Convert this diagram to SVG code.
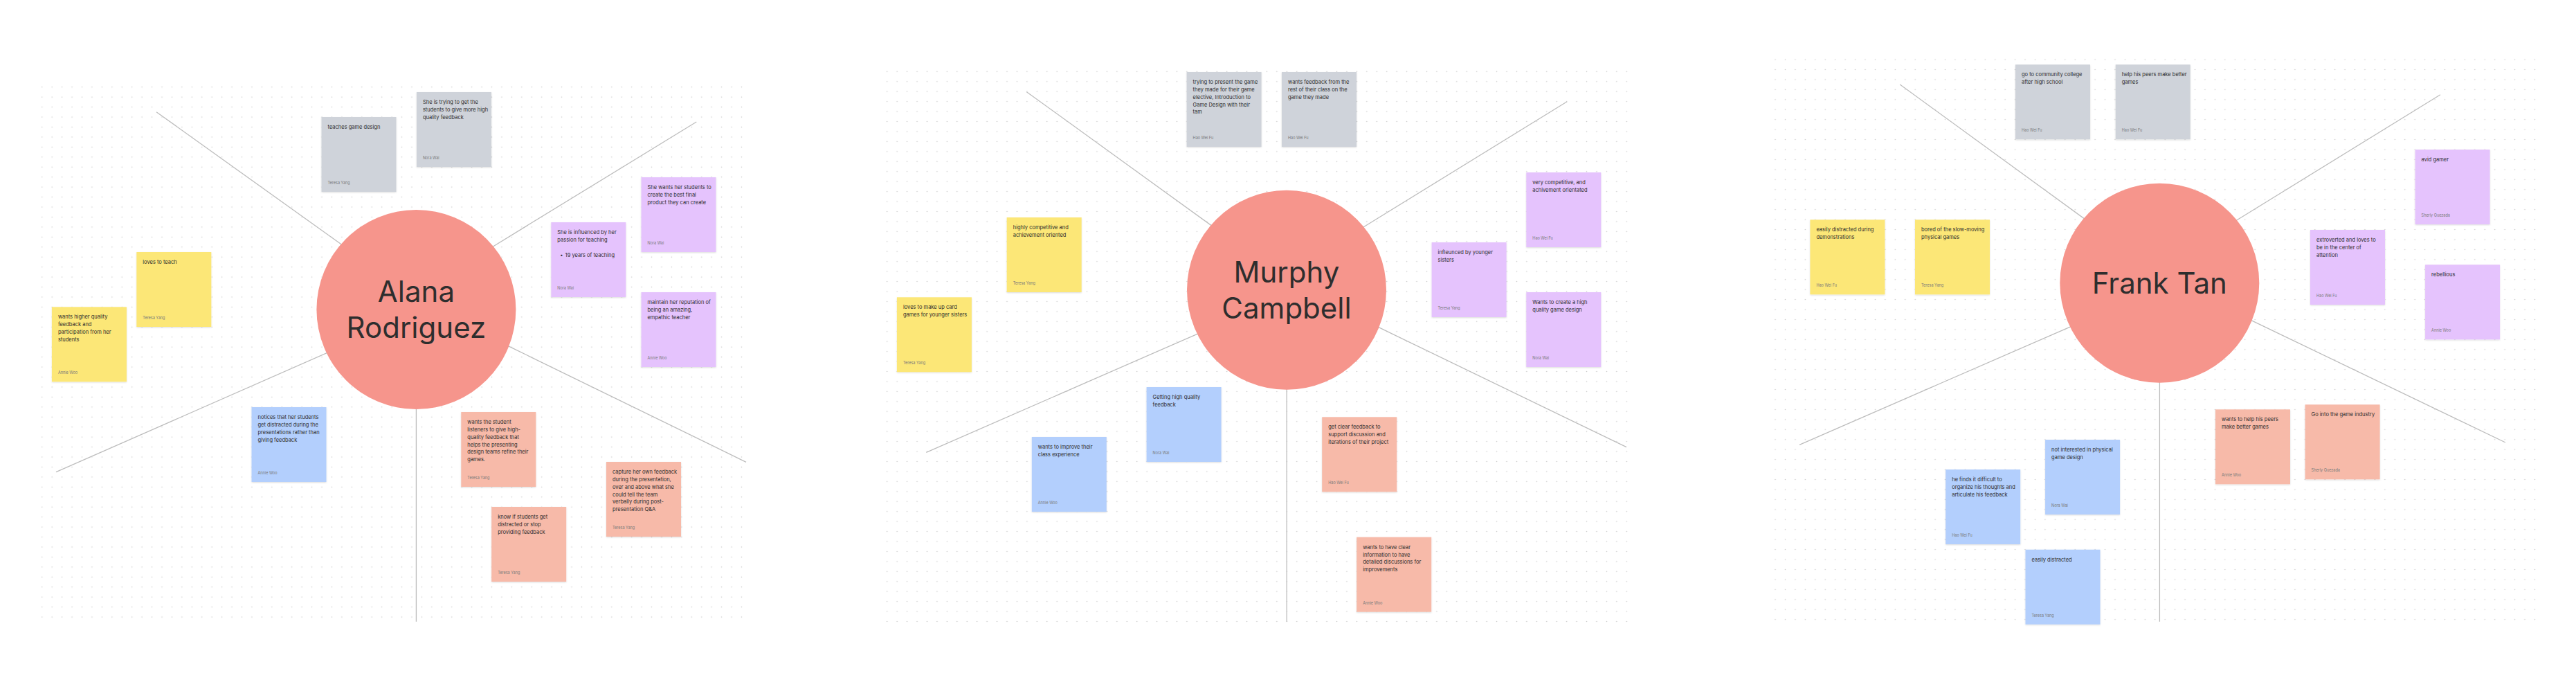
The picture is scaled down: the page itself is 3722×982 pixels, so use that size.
<svg xmlns="http://www.w3.org/2000/svg" width="3722" height="982" viewBox="0 0 3722 982">
<defs>
<pattern id="dots1" x="53.5" y="118.5" width="14.44" height="14.44" patternUnits="userSpaceOnUse"><circle cx="7.22" cy="7.22" r="0.8" fill="#c9c9c9"/></pattern>
<pattern id="dots2" x="1274.5" y="96.1" width="14.44" height="14.44" patternUnits="userSpaceOnUse"><circle cx="7.22" cy="7.22" r="0.8" fill="#c9c9c9"/></pattern>
<pattern id="dots3" x="2557.8" y="78.8" width="14.44" height="14.44" patternUnits="userSpaceOnUse"><circle cx="7.22" cy="7.22" r="0.8" fill="#c9c9c9"/></pattern>
<filter id="sh" x="-10%" y="-10%" width="120%" height="125%"><feDropShadow dx="0" dy="1" stdDeviation="1" flood-color="#000" flood-opacity="0.14"/></filter>
</defs>
<style>
.st{filter:url(#sh)}
.grey{fill:#cfd3da}
.yellow{fill:#fce777}
.purple{fill:#e5c3fd}
.blue{fill:#b3cffd}
.salmon{fill:#f7baa9}
.b{font-family:Inter,"Liberation Sans",sans-serif;font-size:7.5px;fill:#2b2b2b}
.a{font-family:Inter,"Liberation Sans",sans-serif;font-size:5.5px;fill:#7a7a7a}
.hub{fill:#f6958c}
.hubt{font-family:Inter,"Liberation Sans",sans-serif;font-size:42px;fill:#2e2e2e;text-anchor:middle}
.con line{stroke:#bdbdbd;stroke-width:1.3;fill:none}
</style>
<rect width="3722" height="982" fill="#ffffff"/>
<g id="backgrounds">
<rect x="53.5" y="118.5" width="1025" height="780" fill="url(#dots1)"/>
<rect x="1274.5" y="96.1" width="1083" height="808" fill="url(#dots2)"/>
<rect x="2557.8" y="78.8" width="1112" height="824" fill="url(#dots3)"/>
</g>
<g id="connectors" class="con">
<line x1="226" y1="161.7" x2="500" y2="357.8"/>
<line x1="1006.3" y1="176" x2="705.5" y2="360.2"/>
<line x1="81" y1="681.7" x2="479" y2="506.7"/>
<line x1="1078" y1="667.3" x2="726" y2="495.6"/>
<line x1="601.4" y1="580" x2="601.4" y2="897.7"/>
<line x1="1483.4" y1="132.7" x2="1757.5" y2="330.9"/>
<line x1="2264.2" y1="146.7" x2="1961" y2="333.5"/>
<line x1="1338.3" y1="653.3" x2="1736.8" y2="479.3"/>
<line x1="2350" y1="645.7" x2="1984.3" y2="468.9"/>
<line x1="1859.2" y1="550" x2="1859.2" y2="897.7"/>
<line x1="2745.2" y1="122" x2="3018.5" y2="320.9"/>
<line x1="3526" y1="136.7" x2="3222.8" y2="323.5"/>
<line x1="2600" y1="642.3" x2="2997.4" y2="469.3"/>
<line x1="3620" y1="639" x2="3244" y2="458.4"/>
<line x1="3120.4" y1="540" x2="3120.4" y2="897.7"/>
</g>
<g id="hub-alana"><circle class="hub" cx="601.4" cy="447" r="144"/><text class="hubt"><tspan x="601.4" y="436">Alana</tspan><tspan x="601.4" y="488">Rodriguez</tspan></text></g>
<g id="hub-murphy"><circle class="hub" cx="1859" cy="418.7" r="144"/><text class="hubt"><tspan x="1859" y="408">Murphy</tspan><tspan x="1859" y="460">Campbell</tspan></text></g>
<g id="hub-frank"><circle class="hub" cx="3120.3" cy="408.7" r="144"/><text class="hubt"><tspan x="3120.3" y="424.3">Frank Tan</tspan></text></g>

<g id="n1" transform="translate(464.5,169)"><rect class="st grey" width="108" height="108"/><text class="b"><tspan x="9" y="17">teaches game design</tspan></text><text class="a" x="9" y="97">Teresa Yang</text></g>
<g id="n2" transform="translate(601.9,133)"><rect class="st grey" width="108" height="108"/><text class="b"><tspan x="9" y="17">She is trying to get the</tspan><tspan x="9" dy="10.85">students to give more high</tspan><tspan x="9" dy="10.85">quality feedback</tspan></text><text class="a" x="9" y="97">Nora Wai</text></g>
<g id="n3" transform="translate(197.3,364)"><rect class="st yellow" width="108" height="108"/><text class="b"><tspan x="9" y="17">loves to teach</tspan></text><text class="a" x="9" y="97">Teresa Yang</text></g>
<g id="n4" transform="translate(74.9,443.3)"><rect class="st yellow" width="108" height="108"/><text class="b"><tspan x="9" y="17">wants higher quality</tspan><tspan x="9" dy="10.85">feedback and</tspan><tspan x="9" dy="10.85">participation from her</tspan><tspan x="9" dy="10.85">students</tspan></text><text class="a" x="9" y="97">Annie Woo</text></g>
<g id="n5" transform="translate(796.3,321)"><rect class="st purple" width="108" height="108"/><text class="b"><tspan x="9" y="17">She is influenced by her</tspan><tspan x="9" dy="10.85">passion for teaching</tspan><tspan x="13" y="49.5">•</tspan><tspan x="20.3" y="49.5">19 years of teaching</tspan></text><text class="a" x="9" y="97">Nora Wai</text></g>
<g id="n6" transform="translate(926.5,256)"><rect class="st purple" width="108" height="108"/><text class="b"><tspan x="9" y="17">She wants her students to</tspan><tspan x="9" dy="10.85">create the best final</tspan><tspan x="9" dy="10.85">product they can create</tspan></text><text class="a" x="9" y="97">Nora Wai</text></g>
<g id="n7" transform="translate(926.5,422)"><rect class="st purple" width="108" height="108"/><text class="b"><tspan x="9" y="17">maintain her reputation of</tspan><tspan x="9" dy="10.85">being an amazing,</tspan><tspan x="9" dy="10.85">empathic teacher</tspan></text><text class="a" x="9" y="97">Annie Woo</text></g>
<g id="n8" transform="translate(363.5,588)"><rect class="st blue" width="108" height="108"/><text class="b"><tspan x="9" y="17">notices that her students</tspan><tspan x="9" dy="10.85">get distracted during the</tspan><tspan x="9" dy="10.85">presentations rather than</tspan><tspan x="9" dy="10.85">giving feedback</tspan></text><text class="a" x="9" y="97">Annie Woo</text></g>
<g id="n9" transform="translate(666.3,595)"><rect class="st salmon" width="108" height="108"/><text class="b"><tspan x="9" y="17">wants the student</tspan><tspan x="9" dy="10.85">listeners to give high-</tspan><tspan x="9" dy="10.85">quality feedback that</tspan><tspan x="9" dy="10.85">helps the presenting</tspan><tspan x="9" dy="10.85">design teams refine their</tspan><tspan x="9" dy="10.85">games.</tspan></text><text class="a" x="9" y="97">Teresa Yang</text></g>
<g id="n10" transform="translate(710.2,732)"><rect class="st salmon" width="108" height="108"/><text class="b"><tspan x="9" y="17">know if students get</tspan><tspan x="9" dy="10.85">distracted or stop</tspan><tspan x="9" dy="10.85">providing feedback</tspan></text><text class="a" x="9" y="97">Teresa Yang</text></g>
<g id="n11" transform="translate(876,667)"><rect class="st salmon" width="108" height="108"/><text class="b"><tspan x="9" y="17">capture her own feedback</tspan><tspan x="9" dy="10.85">during the presentation,</tspan><tspan x="9" dy="10.85">over and above what she</tspan><tspan x="9" dy="10.85">could tell the team</tspan><tspan x="9" dy="10.85">verbally during post-</tspan><tspan x="9" dy="10.85">presentation Q&amp;A</tspan></text><text class="a" x="9" y="97">Teresa Yang</text></g>

<g id="n12" transform="translate(1714.6,104)"><rect class="st grey" width="108" height="108"/><text class="b"><tspan x="9" y="17">trying to present the game</tspan><tspan x="9" dy="10.85">they made for their game</tspan><tspan x="9" dy="10.85">elective, Introduction to</tspan><tspan x="9" dy="10.85">Game Design with their</tspan><tspan x="9" dy="10.85">tam</tspan></text><text class="a" x="9" y="97">Hao Wei Fu</text></g>
<g id="n13" transform="translate(1852,104)"><rect class="st grey" width="108" height="108"/><text class="b"><tspan x="9" y="17">wants feedback from the</tspan><tspan x="9" dy="10.85">rest of their class on the</tspan><tspan x="9" dy="10.85">game they made</tspan></text><text class="a" x="9" y="97">Hao Wei Fu</text></g>
<g id="n14" transform="translate(1454.7,314)"><rect class="st yellow" width="108" height="108"/><text class="b"><tspan x="9" y="17">highly competitive and</tspan><tspan x="9" dy="10.85">achievement oriented</tspan></text><text class="a" x="9" y="97">Teresa Yang</text></g>
<g id="n15" transform="translate(1295.9,429.3)"><rect class="st yellow" width="108" height="108"/><text class="b"><tspan x="9" y="17">loves to make up card</tspan><tspan x="9" dy="10.85">games for younger sisters</tspan></text><text class="a" x="9" y="97">Teresa Yang</text></g>
<g id="n16" transform="translate(2205.3,249)"><rect class="st purple" width="108" height="108"/><text class="b"><tspan x="9" y="17">very competitive, and</tspan><tspan x="9" dy="10.85">achivement orientated</tspan></text><text class="a" x="9" y="97">Hao Wei Fu</text></g>
<g id="n17" transform="translate(2068.6,350)"><rect class="st purple" width="108" height="108"/><text class="b"><tspan x="9" y="17">infleunced by younger</tspan><tspan x="9" dy="10.85">sisters</tspan></text><text class="a" x="9" y="97">Teresa Yang</text></g>
<g id="n18" transform="translate(2205.3,422)"><rect class="st purple" width="108" height="108"/><text class="b"><tspan x="9" y="17">Wants to create a high</tspan><tspan x="9" dy="10.85">quality game design</tspan></text><text class="a" x="9" y="97">Nora Wai</text></g>
<g id="n19" transform="translate(1656.6,559)"><rect class="st blue" width="108" height="108"/><text class="b"><tspan x="9" y="17">Getting high quality</tspan><tspan x="9" dy="10.85">feedback</tspan></text><text class="a" x="9" y="97">Nora Wai</text></g>
<g id="n20" transform="translate(1490.8,631)"><rect class="st blue" width="108" height="108"/><text class="b"><tspan x="9" y="17">wants to improve their</tspan><tspan x="9" dy="10.85">class experience</tspan></text><text class="a" x="9" y="97">Annie Woo</text></g>
<g id="n21" transform="translate(1910.2,602.3)"><rect class="st salmon" width="108" height="108"/><text class="b"><tspan x="9" y="17">get clear feedback to</tspan><tspan x="9" dy="10.85">support discussion and</tspan><tspan x="9" dy="10.85">iterations of their project</tspan></text><text class="a" x="9" y="97">Hao Wei Fu</text></g>
<g id="n22" transform="translate(1960.2,775.7)"><rect class="st salmon" width="108" height="108"/><text class="b"><tspan x="9" y="17">wants to have clear</tspan><tspan x="9" dy="10.85">information to have</tspan><tspan x="9" dy="10.85">detailed discussions for</tspan><tspan x="9" dy="10.85">improvements</tspan></text><text class="a" x="9" y="97">Annie Woo</text></g>

<g id="n23" transform="translate(2912,93.3)"><rect class="st grey" width="108" height="108"/><text class="b"><tspan x="9" y="17">go to community college</tspan><tspan x="9" dy="10.85">after high school</tspan></text><text class="a" x="9" y="97">Hao Wei Fu</text></g>
<g id="n24" transform="translate(3056.7,93.3)"><rect class="st grey" width="108" height="108"/><text class="b"><tspan x="9" y="17">help his peers make better</tspan><tspan x="9" dy="10.85">games</tspan></text><text class="a" x="9" y="97">Hao Wei Fu</text></g>
<g id="n25" transform="translate(2615.4,317.3)"><rect class="st yellow" width="108" height="108"/><text class="b"><tspan x="9" y="17">easily distracted during</tspan><tspan x="9" dy="10.85">demonstrations</tspan></text><text class="a" x="9" y="97">Hao Wei Fu</text></g>
<g id="n26" transform="translate(2767,317.3)"><rect class="st yellow" width="108" height="108"/><text class="b"><tspan x="9" y="17">bored of the slow-moving</tspan><tspan x="9" dy="10.85">physical games</tspan></text><text class="a" x="9" y="97">Teresa Yang</text></g>
<g id="n27" transform="translate(3489.6,216)"><rect class="st purple" width="108" height="108"/><text class="b"><tspan x="9" y="17">avid gamer</tspan></text><text class="a" x="9" y="97">Sherly Quezada</text></g>
<g id="n28" transform="translate(3338,332)"><rect class="st purple" width="108" height="108"/><text class="b"><tspan x="9" y="17">extroverted and loves to</tspan><tspan x="9" dy="10.85">be in the center of</tspan><tspan x="9" dy="10.85">attention</tspan></text><text class="a" x="9" y="97">Hao Wei Fu</text></g>
<g id="n29" transform="translate(3504.1,382.3)"><rect class="st purple" width="108" height="108"/><text class="b"><tspan x="9" y="17">rebellious</tspan></text><text class="a" x="9" y="97">Annie Woo</text></g>
<g id="n30" transform="translate(2955.1,635)"><rect class="st blue" width="108" height="108"/><text class="b"><tspan x="9" y="17">not interested in physical</tspan><tspan x="9" dy="10.85">game design</tspan></text><text class="a" x="9" y="97">Nora Wai</text></g>
<g id="n31" transform="translate(2811.2,678)"><rect class="st blue" width="108" height="108"/><text class="b"><tspan x="9" y="17">he finds it difficult to</tspan><tspan x="9" dy="10.85">organize his thoughts and</tspan><tspan x="9" dy="10.85">articulate his feedback</tspan></text><text class="a" x="9" y="97">Hao Wei Fu</text></g>
<g id="n32" transform="translate(2926.5,793.7)"><rect class="st blue" width="108" height="108"/><text class="b"><tspan x="9" y="17">easily distracted</tspan></text><text class="a" x="9" y="97">Teresa Yang</text></g>
<g id="n33" transform="translate(3201,591.3)"><rect class="st salmon" width="108" height="108"/><text class="b"><tspan x="9" y="17">wants to help his peers</tspan><tspan x="9" dy="10.85">make better games</tspan></text><text class="a" x="9" y="97">Annie Woo</text></g>
<g id="n34" transform="translate(3330.6,584.3)"><rect class="st salmon" width="108" height="108"/><text class="b"><tspan x="9" y="17">Go into the game industry</tspan></text><text class="a" x="9" y="97">Sherly Quezada</text></g>
</svg>
